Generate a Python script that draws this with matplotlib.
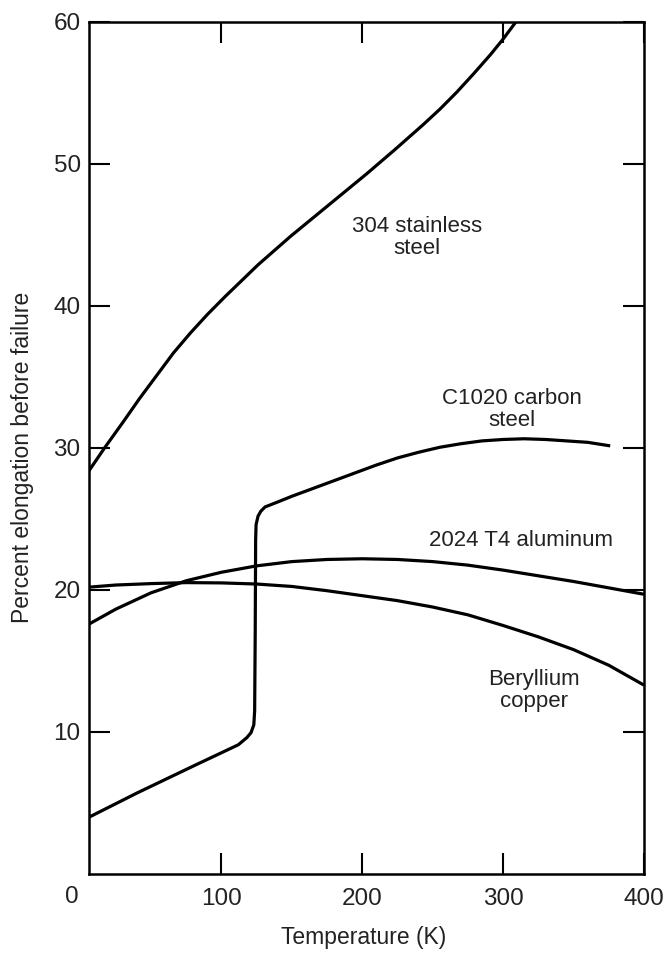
import matplotlib
matplotlib.use("Agg")
import matplotlib.pyplot as plt

# ---- data ----
stainless_T = [6, 17, 30, 42, 54, 66, 78, 90, 103, 126, 149, 176, 203, 223, 243, 255, 267, 279, 291, 300, 309]
stainless_E = [28.4, 30.0, 31.8, 33.5, 35.1, 36.7, 38.1, 39.4, 40.7, 42.9, 44.9, 47.1, 49.3, 51.0, 52.75, 53.85, 55.05, 56.35, 57.7, 58.8, 60.0]

carbon_T = [6, 40, 80, 112, 118, 121, 123, 123.6, 124, 124.3, 124.6, 126, 128, 131, 140, 150, 165, 180, 195, 210, 225, 240, 255, 270, 285, 300, 315, 330, 345, 360, 376]
carbon_E = [4.0, 5.7, 7.6, 9.1, 9.6, 9.95, 10.5, 11.5, 17.0, 23.5, 24.6, 25.2, 25.55, 25.85, 26.2, 26.6, 27.15, 27.7, 28.25, 28.8, 29.3, 29.7, 30.05, 30.3, 30.5, 30.6, 30.65, 30.6, 30.5, 30.4, 30.15]

alum_T = [6, 25, 50, 75, 100, 125, 150, 175, 200, 225, 250, 275, 300, 325, 350, 375, 400]
alum_E = [17.6, 18.65, 19.8, 20.65, 21.25, 21.7, 22.0, 22.15, 22.2, 22.15, 22.0, 21.75, 21.4, 21.0, 20.6, 20.15, 19.7]

becu_T = [6, 25, 50, 75, 100, 125, 150, 175, 200, 225, 250, 275, 300, 325, 350, 375, 400]
becu_E = [20.2, 20.35, 20.45, 20.52, 20.5, 20.42, 20.25, 19.95, 19.6, 19.25, 18.8, 18.25, 17.5, 16.7, 15.8, 14.7, 13.3]

x_ticks = [100, 200, 300, 400]
y_ticks = [10, 20, 30, 40, 50, 60]

labels = {
    "304 stainless\nsteel": (239, 44.8),
    "C1020 carbon\nsteel": (306, 32.7),
    "2024 T4 aluminum": (313, 23.5),
    "Beryllium\ncopper": (322, 12.9),
}

plt.rcParams['font.family'] = ['Liberation Sans', 'DejaVu Sans']

fig = plt.figure(figsize=(6.69, 9.56), dpi=100)
ax = fig.add_axes([89/669, 1 - 874/956, (644-89)/669, (874-22)/956])

lw = 2.3
for T, E in [(stainless_T, stainless_E), (carbon_T, carbon_E), (alum_T, alum_E), (becu_T, becu_E)]:
    ax.plot(T, E, color='black', lw=lw, solid_capstyle='butt', solid_joinstyle='round')

for txt, (x, y) in labels.items():
    ax.text(x, y, txt, ha='center', va='center', fontsize=16, color='#222222', linespacing=1.05)

ax.set_xlim(6, 400)
ax.set_ylim(0, 60)
ax.set_xticks(x_ticks)
ax.set_yticks(y_ticks)
ax.tick_params(direction='in', length=15, width=1.5, top=True, right=True,
               labelsize=17.5, colors='black', labelcolor='#222222')
ax.tick_params(axis='x', pad=10)
ax.tick_params(axis='y', pad=6)
for s in ax.spines.values():
    s.set_linewidth(1.8)

ax.text(-0.031, -0.027, "0", transform=ax.transAxes, ha='center', va='center', fontsize=17.5, color='#222222')
ax.set_xlabel("Temperature (K)", fontsize=16.5, color='#222222')
ax.set_ylabel("Percent elongation before failure", fontsize=16.5, color='#222222')
ax.xaxis.set_label_coords(0.494, -0.074)
ax.yaxis.set_label_coords(-0.119, 0.489)
ax.xaxis.label.set_va('center')
ax.yaxis.label.set_va('center')

fig.savefig("out.png", dpi=100)
